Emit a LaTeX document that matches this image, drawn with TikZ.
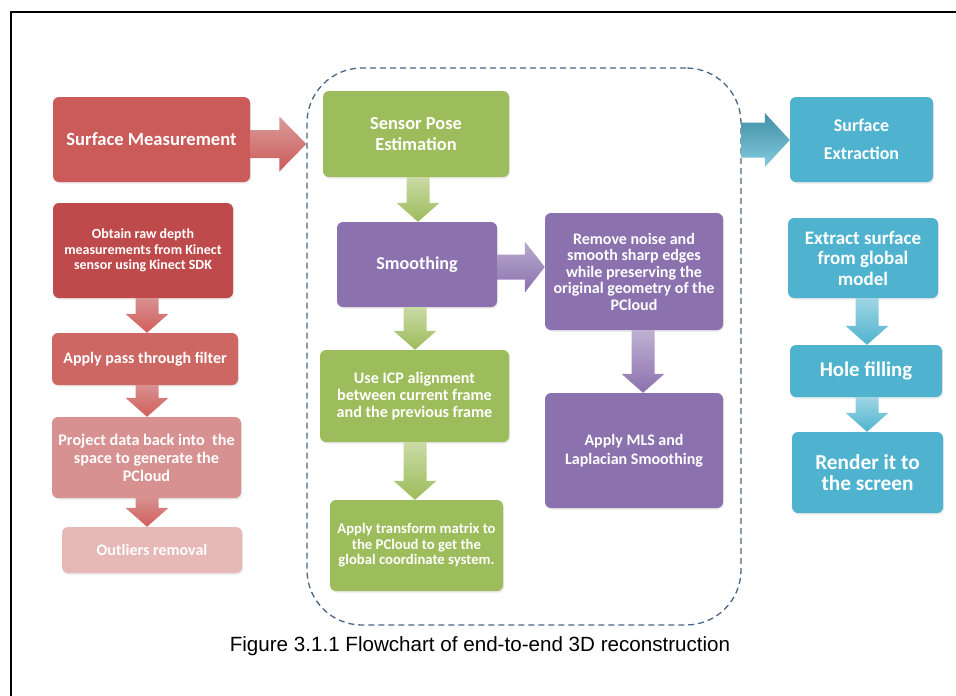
\documentclass[tikz,border=0pt]{standalone}
\usepackage{fontspec}
\newfontfamily\carl{Carlito}
\newfontfamily\arialf{Liberation Sans}
\usetikzlibrary{shadows,calc}
\definecolor{redA}{HTML}{CA5B59}
\definecolor{redB}{HTML}{BE4A4B}
\definecolor{redC}{HTML}{CD6764}
\definecolor{redD}{HTML}{D69190}
\definecolor{redE}{HTML}{E6B8B7}
\definecolor{grn}{HTML}{9DBC5B}
\definecolor{pur}{HTML}{8B71AE}
\definecolor{blu}{HTML}{4FB3CF}
\definecolor{frm}{HTML}{4B6585}
\tikzset{
  box/.style={rounded corners=6pt, text=white, align=center, inner sep=0pt,
    drop shadow={opacity=0.18, shadow xshift=1pt, shadow yshift=-1.5pt}},
  grp/.style={draw=frm, dash pattern=on 6pt off 4pt, line width=1.3pt, rounded corners=55pt, inner sep=0pt}
}
\newcommand\fs[2]{\carl\bfseries\fontsize{#1}{#2}\selectfont}
% down block arrow: from, to, x, top colour, bottom colour
\newcommand\darr[5]{%
  \coordinate (dx) at (#3,0);
  \coordinate (ds) at (#1.south -| dx);
  \coordinate (dt) at (#2.north -| dx);
  \shade[top color=#4,bottom color=#5] ([xshift=-11.5pt]ds) -- ([xshift=11.5pt]ds)
    -- ([xshift=11.5pt,yshift=19pt]dt) -- ([xshift=21.5pt,yshift=19pt]dt) -- (dt)
    -- ([xshift=-21.5pt,yshift=19pt]dt) -- ([xshift=-11.5pt,yshift=19pt]dt) -- cycle;
}
% right block arrow: from, to, y, shaft half, head half, head length, top colour, bottom colour
\newcommand\rarr[8]{%
  \coordinate (ry) at (0,#3);
  \coordinate (rs) at (#1.east |- ry);
  \coordinate (rt) at (#2.west |- ry);
  \shade[top color=#7,bottom color=#8] ([yshift=#4]rs) -- ([xshift=-#6,yshift=#4]rt)
    -- ([xshift=-#6,yshift=#5]rt) -- (rt) -- ([xshift=-#6,yshift=-#5]rt)
    -- ([xshift=-#6,yshift=-#4]rt) -- ([yshift=-#4]rs) -- cycle;
}
\begin{document}
\begin{tikzpicture}[x=1pt,y=-1pt]
\useasboundingbox (0,0) rectangle (956,696);
\draw[line width=2pt] (11,696) -- (11,12) -- (956,12);

% dashed group frame
\node[grp, minimum width=434pt, minimum height=557pt] (grp) at (524,346.5) {};

% left column (red)
\node[box, fill=redA, minimum width=197pt, minimum height=85pt, font=\fs{18.6}{21.5}] (sm) at (151.5,139.5) {Surface Measurement};
\node[box, fill=redB, minimum width=180pt, minimum height=95pt, font=\fs{14}{15.5}] (obt) at (143,250.5) {Obtain raw depth\\measurements from Kinect\\sensor using Kinect SDK};
\node[box, fill=redC, minimum width=186pt, minimum height=52pt, font=\fs{16}{18.5}] (pass) at (145,359) {Apply pass through filter};
\node[box, fill=redD, minimum width=189pt, minimum height=81pt, font=\fs{16.2}{18}] (proj) at (146.5,457.5) {Project data back into\ \ the\\space to generate the\\PCloud};
\node[box, fill=redE, minimum width=180pt, minimum height=46pt, font=\fs{16}{18.5}] (out) at (152,550) {Outliers removal};

% middle column
\node[box, fill=grn, minimum width=186pt, minimum height=86pt, font=\fs{18.4}{20.5}] (spe) at (416,134) {Sensor Pose\\Estimation};
\node[box, fill=pur, minimum width=160pt, minimum height=85pt, font=\fs{18.1}{21}] (smo) at (417,264.5) {Smoothing};
\node[box, fill=grn, minimum width=189pt, minimum height=92pt, font=\fs{16.1}{17}] (icp) at (414.5,396) {Use ICP alignment\\between current frame\\and the previous frame};
\node[box, fill=grn, minimum width=173pt, minimum height=91pt, font=\fs{14.7}{15.5}] (trf) at (416.5,545.5) {Apply transform matrix to\\the PCloud to get the\\global coordinate system.};
\node[box, fill=pur, minimum width=178pt, minimum height=117pt, font=\fs{16}{16.5}] (rn) at (634,271.5) {Remove noise and\\smooth sharp edges\\while preserving the\\original geometry of the\\PCloud};
\node[box, fill=pur, minimum width=178pt, minimum height=115pt, font=\fs{16}{19}] (mls) at (634,450.5) {Apply MLS and\\Laplacian Smoothing};

% right column (blue)
\node[box, fill=blu, minimum width=143pt, minimum height=85pt, font=\fs{17.9}{28}] (se) at (861.5,139.5) {Surface\\Extraction};
\node[box, fill=blu, minimum width=150pt, minimum height=80pt, font=\fs{19}{20.5}] (es) at (863,258) {Extract surface\\from global\\model};
\node[box, fill=blu, minimum width=152pt, minimum height=52pt, font=\fs{20.8}{23}] (hf) at (866,371) {Hole filling};
\node[box, fill=blu, minimum width=151pt, minimum height=81pt, font=\fs{21.3}{21.5}] (rd) at (867.5,472.5) {Render it to\\the screen};

% arrows
\rarr{sm}{grp}{144}{14pt}{27.5pt}{27pt}{redD!90!white}{redA}
\rarr{smo}{rn}{267}{12.5pt}{25.5pt}{20pt}{pur!60!white}{pur}
\rarr{grp}{se}{140}{17.5pt}{27pt}{25pt}{blu!80!black}{blu!70!white}

\darr{obt}{pass}{147}{redD}{redC!90!red}
\darr{pass}{proj}{147}{redD}{redC!90!red}
\darr{proj}{out}{147}{redD}{redC!90!red}
\darr{spe}{smo}{418}{grn!55!white}{grn}
\darr{smo}{icp}{415}{grn!55!white}{grn}
\darr{icp}{trf}{415}{grn!55!white}{grn}
\darr{rn}{mls}{643}{pur!55!white}{pur}
\darr{es}{hf}{867}{blu!55!white}{blu}
\darr{hf}{rd}{867}{blu!55!white}{blu}

% caption
\node[font=\arialf\fontsize{20.6}{24}\selectfont, anchor=base, inner sep=0pt] (cap) at (480,651) {Figure 3.1.1 Flowchart of end-to-end 3D reconstruction};
\end{tikzpicture}
\end{document}
